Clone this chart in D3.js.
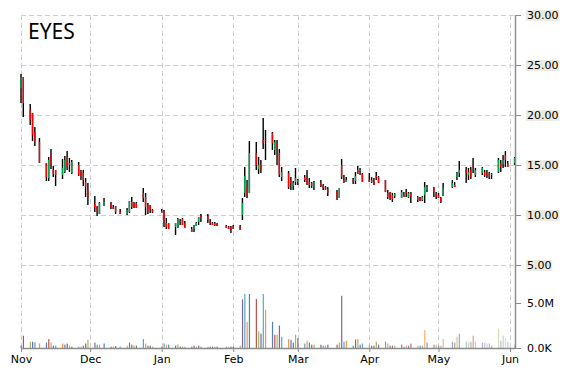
<!DOCTYPE html>
<html>
<head>
<meta charset="utf-8">
<title>EYES</title>
<script src="https://d3js.org/d3.v7.min.js"></script>
<style>
  body { margin: 0; background: #fff; }
  svg text { font-family: "DejaVu Sans", Verdana, sans-serif; }
  .grid line { stroke: #cfcfcf; stroke-dasharray: 5,3; shape-rendering: crispEdges; }
</style>
</head>
<body>
<svg id="chart" width="570" height="370"></svg>
<script>
// trading days that appear on the chart
const dates = [
  "2012-11-01","2012-11-02","2012-11-05","2012-11-06","2012-11-07","2012-11-09",
  "2012-11-12","2012-11-13","2012-11-14","2012-11-15","2012-11-16",
  "2012-11-19","2012-11-20","2012-11-21","2012-11-22","2012-11-23",
  "2012-11-26","2012-11-27","2012-11-28","2012-11-29","2012-11-30",
  "2012-12-03","2012-12-04","2012-12-05","2012-12-07",
  "2012-12-10","2012-12-11","2012-12-12","2012-12-14",
  "2012-12-17","2012-12-18","2012-12-19","2012-12-20","2012-12-21",
  "2012-12-24","2012-12-25","2012-12-26","2012-12-27","2012-12-28",
  "2013-01-01","2013-01-02","2013-01-03","2013-01-04",
  "2013-01-07","2013-01-08","2013-01-09","2013-01-10","2013-01-11",
  "2013-01-14","2013-01-15","2013-01-16","2013-01-17","2013-01-18",
  "2013-01-21","2013-01-22","2013-01-23","2013-01-24","2013-01-25",
  "2013-01-29","2013-01-30","2013-01-31","2013-02-01",
  "2013-02-04","2013-02-05","2013-02-06","2013-02-07","2013-02-08",
  "2013-02-11","2013-02-12","2013-02-13","2013-02-14","2013-02-15",
  "2013-02-18","2013-02-19","2013-02-20","2013-02-21","2013-02-22",
  "2013-02-25","2013-02-26","2013-02-27","2013-02-28","2013-03-01",
  "2013-03-04","2013-03-05","2013-03-06","2013-03-07","2013-03-08",
  "2013-03-11","2013-03-12","2013-03-13","2013-03-14",
  "2013-03-18","2013-03-19","2013-03-20","2013-03-21","2013-03-22",
  "2013-03-25","2013-03-26","2013-03-27","2013-03-28","2013-03-29",
  "2013-04-01","2013-04-02","2013-04-03","2013-04-04","2013-04-05",
  "2013-04-08","2013-04-09","2013-04-10","2013-04-11","2013-04-12",
  "2013-04-15","2013-04-16","2013-04-17","2013-04-18","2013-04-19",
  "2013-04-22","2013-04-23","2013-04-24","2013-04-25","2013-04-26",
  "2013-04-29","2013-04-30","2013-05-01","2013-05-02","2013-05-03",
  "2013-05-07","2013-05-08","2013-05-09","2013-05-10",
  "2013-05-13","2013-05-14","2013-05-15","2013-05-16","2013-05-17",
  "2013-05-20","2013-05-21","2013-05-22","2013-05-23","2013-05-24",
  "2013-05-27","2013-05-28","2013-05-29","2013-05-30","2013-05-31",
  "2013-06-03"
];

const open = [
  22.7,23.8,20.5,20.2,18.3,17.3, 15.2,13.7,15.9,14.5,14.5, 14.0,14.3,15.8,15.2,14.2, 15.0,14.3,14.2,13.3,12.5,
  11.1,10.9,10.1,10.9, 11.2,10.8,10.9,10.3, 10.1,10.3,11.3,11.2,11.2, 12.2,11.8,11.0,11.0,10.5,
  10.4,10.3,9.2,9.2, 8.8,8.7,9.4,9.6,9.2, 8.6,8.6,8.9,9.3,9.9, 9.9,9.4,9.2,9.2,9.1, 8.9,8.8,8.8,8.9,
  8.8,10.0,12.2,12.8,12.2, 16.2,14.6,15.0,17.5,17.5, 18.2,16.5,17.2,16.2,13.8, 14.2,13.5,12.9,13.3,13.3,
  13.8,13.8,13.3,13.2,12.8, 13.2,12.9,12.8,12.6, 12.3,11.7,15.0,13.5,13.3, 13.5,13.4,14.5,14.4,14.1,
  13.5,13.5,13.3,13.9,13.8, 13.5,12.2,12.3,12.0,11.9, 11.7,12.0,12.3,11.8,12.2, 11.8,11.7,11.5,12.0,12.5,
  12.7,12.2,12.0,11.7,11.9, 12.8,13.0,13.8,14.2, 14.5,14.0,14.5,15.0,14.0, 14.2,14.3,14.2,14.2,14.0,
  14.3,15.2,15.1,16.0,15.2, 15.2
];
const high = [
  24.1,23.8,21.1,20.2,18.8,17.7, 15.2,15.8,16.6,14.9,14.5, 15.6,15.9,16.4,15.7,15.5, 15.3,14.5,14.5,13.7,13.2,
  11.9,10.9,11.3,11.7, 11.3,11.0,10.9,10.6, 10.7,11.4,11.8,11.3,11.3, 12.7,12.2,11.2,11.0,10.6,
  10.6,10.5,9.7,9.2, 9.2,9.7,9.6,9.7,9.4, 8.8,9.0,9.3,9.8,10.1, 10.1,9.6,9.3,9.3,9.2, 9.0,8.9,8.9,9.0,
  9.0,11.7,14.8,13.5,17.4, 17.3,15.8,15.5,19.7,18.5, 18.3,17.5,17.5,16.6,14.8, 14.4,13.8,13.4,14.7,13.6,
  14.0,14.5,13.7,13.3,13.4, 13.5,13.1,12.9,12.8, 12.5,12.7,15.6,14.0,13.8, 13.7,14.3,14.9,14.7,14.2,
  14.2,13.8,13.7,14.3,13.9, 13.5,12.5,12.3,12.2,12.2, 12.5,12.3,12.6,12.3,12.3, 11.9,11.8,11.9,13.3,13.0,
  12.8,12.3,12.2,11.8,13.2, 13.5,13.3,14.3,15.4, 14.8,14.7,14.8,15.7,14.7, 14.8,14.5,14.5,14.3,14.2,
  15.7,15.5,16.0,16.4,15.4, 15.8
];
const low = [
  21.2,19.8,19.0,17.4,16.9,15.2, 13.4,13.4,14.6,13.8,12.9, 13.6,14.2,14.5,14.3,14.1, 13.9,13.5,12.9,11.8,11.0,
  10.3,9.9,10.1,10.9, 10.6,10.6,10.1,10.1, 10.0,10.2,10.6,10.7,10.7, 11.3,10.0,10.1,10.2,10.2,
  10.2,8.8,8.6,8.6, 8.0,8.7,9.0,9.0,8.7, 8.3,8.3,8.9,9.0,9.3, 9.2,9.0,9.0,8.9,8.9, 8.7,8.6,8.2,8.6,
  8.5,9.5,11.8,11.7,12.2, 14.5,14.1,14.2,16.6,15.5, 16.5,16.0,15.0,13.8,13.4, 12.6,12.5,12.5,13.0,13.0,
  13.3,13.0,12.7,12.7,12.5, 12.8,12.5,12.5,11.9, 11.5,11.7,13.6,13.2,13.3, 13.1,13.1,14.1,14.0,13.3,
  13.3,13.2,13.0,13.5,13.2, 12.3,11.6,11.5,11.3,11.7, 11.7,11.8,11.8,11.7,11.2, 11.3,11.4,11.4,11.2,12.3,
  11.8,11.6,11.7,11.2,11.9, 12.7,12.8,13.5,13.8, 13.2,13.5,13.6,14.2,13.8, 14.0,13.8,13.7,13.6,13.6,
  14.2,14.3,14.7,14.8,14.8, 15.0
];
const close = [
  23.7,21.2,19.5,18.0,17.3,15.2, 13.8,15.5,15.0,14.1,14.0, 14.7,15.5,14.8,15.0,15.3, 14.0,14.0,13.5,12.8,11.7,
  10.8,10.4,11.2,11.3, 10.7,10.6,10.3,10.1, 10.5,11.4,10.8,10.8,10.7, 11.7,10.8,10.3,10.5,10.3,
  10.2,9.3,8.8,8.6, 9.2,9.6,9.3,9.0,8.7, 8.3,9.0,9.2,9.8,9.7, 9.5,9.2,9.0,9.0,8.9, 8.7,8.6,8.5,8.6,
  8.5,11.2,13.9,12.0,16.2, 15.0,15.0,14.5,17.2,17.4, 17.2,17.3,16.8,14.0,14.3, 12.8,13.2,13.2,13.7,13.5,
  13.5,13.2,13.0,12.9,13.3, 12.9,12.7,12.5,12.2, 11.7,12.7,13.8,13.3,13.5, 13.3,13.9,14.1,14.5,13.3,
  13.3,13.3,13.0,13.8,13.2, 12.3,11.8,11.7,11.6,12.1, 12.3,11.8,12.2,12.2,11.8, 11.5,11.4,11.8,12.8,12.8,
  12.3,11.8,11.7,11.3,12.7, 13.2,12.8,14.2,14.5, 14.2,14.3,13.8,14.8,14.5, 14.7,14.0,13.9,13.8,14.1,
  15.5,14.8,15.5,15.5,14.8, 15.7
];
// volume in millions of shares
const volume = [
  0.3,1.37,0.7,0.7,0.63,0.5, 0.6,1.0,0.6,0.26,0.26, 0.5,0.37,0.5,0.26,0.15, 0.15,0.15,0.26,0.5,0.9,
  0.6,0.37,0.37,0.5, 0.15,0.15,0.22,0.15, 0.26,0.6,0.37,0.26,0.26, 1.0,0.5,0.26,0.26,0.15,
  0.15,0.5,0.37,0.37, 0.26,0.37,0.15,0.15,0.15, 0.15,0.26,0.15,0.26,0.15, 0.15,0.15,0.15,0.15,0.15, 0.15,0.15,0.15,0.15,
  0.26,5.4,6.0,2.9,6.0, 5.45,1.85,1.6,6.0,4.25, 2.9,1.47,1.47,2.5,1.25, 1.0,0.93,0.6,1.48,1.1,
  0.5,0.8,0.6,0.37,0.37, 0.37,0.26,0.26,0.37, 0.37,0.6,5.8,0.7,0.8, 0.26,0.93,1.0,0.37,0.5,
  0.37,0.26,0.26,0.7,0.37, 0.7,0.5,0.26,0.26,0.26, 0.37,0.15,0.26,0.26,0.5, 0.26,0.26,0.26,2.0,0.6,
  0.37,0.37,0.26,0.26,1.0, 0.7,0.6,1.26,1.6, 0.7,0.6,0.7,1.37,0.7, 0.6,0.6,0.5,0.5,0.26,
  2.16,0.8,1.37,1.1,0.7, 0.4
];

const priceTicks = [5, 10, 15, 20, 25, 30];
const volumeTicks = [0, 5e6];
const ticker = "EYES";
const volColors = ["#4f81bd", "#c0504d", "#9bbb59", "#8064a2", "#4bacc6", "#f79646"];

const parse = d3.timeParse("%Y-%m-%d");
const data = dates.map((d, i) => ({
  date: parse(d), o: open[i], h: high[i], l: low[i], c: close[i], v: volume[i] * 1e6, i: i
}));

const svg = d3.select("#chart");
const plotL = 21, plotR = 515, plotT = 15, plotB = 348;

const x = d3.scaleTime()
  .domain([new Date(2012, 10, 1), new Date(2013, 5, 1)])
  .range([21, 510]);
const y = d3.scaleLinear().domain([5, 30]).range([265, 15]);
const yVol = d3.scaleLinear().domain([0, 5e6]).range([plotB, 303]);

const months = d3.timeMonth.range(new Date(2012, 10, 1), new Date(2013, 5, 2));

// grid
const grid = svg.append("g").attr("class", "grid");
grid.selectAll(".v").data(months).join("line")
  .attr("x1", d => Math.round(x(d)) + 0.5).attr("x2", d => Math.round(x(d)) + 0.5)
  .attr("y1", plotT).attr("y2", plotB);
grid.selectAll(".h").data(priceTicks).join("line")
  .attr("x1", plotL).attr("x2", plotR)
  .attr("y1", d => y(d) + 0.5).attr("y2", d => y(d) + 0.5);

// volume bars
const fadeStart = new Date(2013, 3, 1), fadeEnd = new Date(2013, 5, 3);
svg.append("g").selectAll("rect").data(data).join("rect")
  .attr("x", d => x(d.date) - 0.5)
  .attr("width", 1.2)
  .attr("y", d => yVol(d.v))
  .attr("height", d => plotB - yVol(d.v))
  .attr("fill", d => volColors[d.i % 6])
  .attr("fill-opacity", d => d.date < fadeStart ? 1 :
    1 - 0.6 * (d.date - fadeStart) / (fadeEnd - fadeStart));

// candles: black high-low line, coloured open-close body
const candles = svg.append("g").selectAll("g").data(data).join("g");
candles.append("rect")
  .attr("x", d => x(d.date) - 0.7)
  .attr("width", 1.4)
  .attr("y", d => y(d.h))
  .attr("height", d => Math.max(1, y(d.l) - y(d.h)))
  .attr("fill", "#000");
candles.append("rect")
  .attr("x", d => x(d.date) - 0.7)
  .attr("width", 1.4)
  .attr("y", d => y(Math.max(d.o, d.c)))
  .attr("height", d => Math.max(1, Math.abs(y(d.o) - y(d.c))))
  .attr("fill", d => d.c >= d.o ? "#00a550" : "#ff0000");

// axes
const axisColor = "#8c8c8c";
svg.append("line")
  .attr("x1", plotR + 0.5).attr("x2", plotR + 0.5)
  .attr("y1", plotT).attr("y2", plotB + 1)
  .attr("stroke", axisColor).attr("stroke-width", 1.5);
svg.append("line")
  .attr("x1", plotL).attr("x2", plotR)
  .attr("y1", plotB + 0.5).attr("y2", plotB + 0.5)
  .attr("stroke", axisColor).attr("stroke-width", 1.5);

const yAxis = svg.append("g")
  .attr("transform", `translate(${plotR},0)`)
  .call(d3.axisRight(y).tickValues(priceTicks).tickFormat(d3.format(".2f")).tickSize(6).tickPadding(6));
const volAxis = svg.append("g")
  .attr("transform", `translate(${plotR},0)`)
  .call(d3.axisRight(yVol).tickValues(volumeTicks)
    .tickFormat(d => d === 0 ? "0.0K" : d3.format(".1f")(d / 1e6) + "M")
    .tickSize(6).tickPadding(6));
const xAxis = svg.append("g")
  .attr("transform", `translate(0,${plotB})`)
  .call(d3.axisBottom(x).tickValues(months).tickFormat(d3.timeFormat("%b")).tickSize(4).tickPadding(3));

[yAxis, volAxis, xAxis].forEach(a => {
  a.select(".domain").remove();
  a.selectAll("line").attr("stroke", axisColor);
  a.selectAll("text").attr("font-size", 11).attr("fill", "#000")
    .attr("font-family", "'DejaVu Sans', Verdana, sans-serif");
});

// beige label boxes behind price labels
yAxis.selectAll(".tick").each(function () {
  const t = d3.select(this).select("text");
  const b = t.node().getBBox();
  d3.select(this).insert("rect", "text")
    .attr("x", b.x - 1).attr("y", b.y + 1)
    .attr("width", b.width + 2).attr("height", b.height - 2)
    .attr("fill", "#edebe0");
});

svg.append("text")
  .attr("x", 28).attr("y", 39)
  .attr("font-size", 21)
  .style("font-family", "'Noto Sans', 'Open Sans', sans-serif")
  .text(ticker);
</script>
</body>
</html>
